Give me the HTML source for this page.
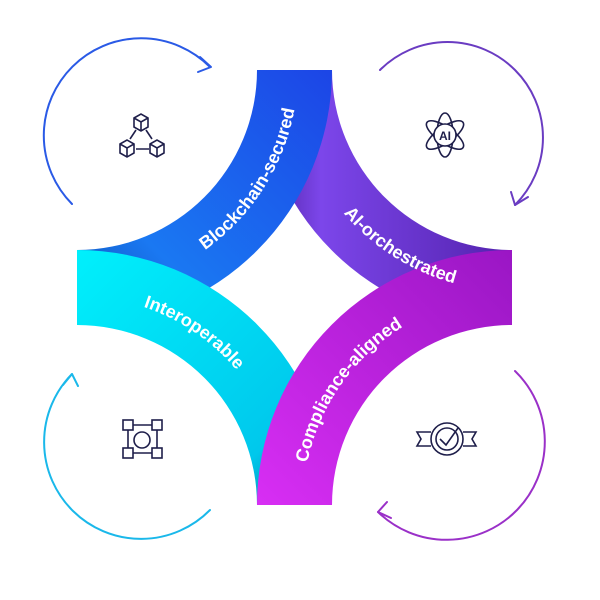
<!DOCTYPE html>
<html><head><style>html,body{margin:0;padding:0;background:#fff;}svg{display:block}</style></head>
<body>
<svg width="600" height="600" viewBox="0 0 600 600" xmlns="http://www.w3.org/2000/svg" font-family="Liberation Sans, sans-serif">
<defs>
<linearGradient id="gB" x1="0" y1="1" x2="1" y2="0"><stop offset="0" stop-color="#0a4fb0"/><stop offset="0.3" stop-color="#1a78f2"/><stop offset="1" stop-color="#1c45e6"/></linearGradient>
<linearGradient id="gP" x1="0" y1="0" x2="1" y2="0"><stop offset="0" stop-color="#4a1e9a"/><stop offset="0.25" stop-color="#7c46ea"/><stop offset="1" stop-color="#5322ae"/></linearGradient>
<linearGradient id="gC" x1="0" y1="0" x2="1" y2="1"><stop offset="0" stop-color="#00f0fc"/><stop offset="0.75" stop-color="#00c8ec"/><stop offset="1" stop-color="#046a90"/></linearGradient>
<linearGradient id="gM" x1="0" y1="1" x2="1" y2="0"><stop offset="0" stop-color="#d82ef4"/><stop offset="1" stop-color="#9a16c4"/></linearGradient>
<path id="tB" d="M77,291 A221 221 0 0 0 298,70"/>
<path id="tA" d="M291,70 A221 221 0 0 0 512,291"/>
<path id="tI" d="M77,296 A209 209 0 0 1 286,505"/>
<path id="tC" d="M303,505 A209 209 0 0 1 512,296"/>
</defs>
<!-- arrows -->
<g fill="none" stroke-width="2" stroke-linecap="round" stroke-linejoin="round">
<path d="M72,204 A90 90 0 0 1 210,67" stroke="#2a5ae6"/>
<path d="M200,57 L211,67 L198,72" stroke="#2a5ae6"/>
<path d="M380,70 A90 90 0 0 1 515,205" stroke="#6a3cc2"/>
<path d="M511,192 L515,205 L528,197" stroke="#6a3cc2"/>
<path d="M210,510 A90 90 0 0 1 72,374" stroke="#1ab8ea"/>
<path d="M63,385 L72,374 L78,386" stroke="#1ab8ea"/>
<path d="M515,371 A90 90 0 0 1 378,512" stroke="#9a30c8"/>
<path d="M387,502 L378,512 L391,518" stroke="#9a30c8"/>
</g>
<!-- bands -->
<path d="M332,70 L257,70 A255 255 0 0 0 512,325 L512,250 A180 180 0 0 1 332,70 Z" fill="url(#gP)"/>
<path d="M257,70 L332,70 A255 255 0 0 1 77,325 L77,250 A180 180 0 0 0 257,70 Z" fill="url(#gB)"/>
<path d="M77,250 L77,325 A180 180 0 0 1 257,505 L332,505 A255 255 0 0 0 77,250 Z" fill="url(#gC)"/>
<path d="M512,250 L512,325 A180 180 0 0 0 332,505 L257,505 A255 255 0 0 1 512,250 Z" fill="url(#gM)"/>
<g fill="#fff" font-size="18" font-weight="bold" text-anchor="middle">
<text><textPath href="#tB" startOffset="64%">Blockchain-secured</textPath></text>
<text><textPath href="#tA" startOffset="64%">AI-orchestrated</textPath></text>
<text><textPath href="#tI" startOffset="38%">Interoperable</textPath></text>
<text><textPath href="#tC" startOffset="39%">Compliance-aligned</textPath></text>
</g>
<!-- icons -->
<g fill="none" stroke="#1e1e4a" stroke-width="1.6">
<path d="M134,118 L141,114 L148,118 L148,127 L141,131 L134,127 Z M134,118 L141,122 L148,118 M141,122 L141,131"/>
<path d="M120,144 L127,140 L134,144 L134,153 L127,157 L120,153 Z M120,144 L127,148 L134,144 M127,148 L127,157"/>
<path d="M150,144 L157,140 L164,144 L164,153 L157,157 L150,153 Z M150,144 L157,148 L164,144 M157,148 L157,157"/>
<path d="M136,130 L130,139 M146,130 L152,139 M136,149 L149,149"/>
<ellipse cx="445" cy="135" rx="8" ry="22"/><ellipse cx="445" cy="135" rx="22" ry="8" transform="rotate(35 445 135)"/><ellipse cx="445" cy="135" rx="22" ry="8" transform="rotate(-35 445 135)"/>
<circle cx="445" cy="135" r="11" fill="#fff"/>
<rect x="123" y="420" width="10" height="10"/><rect x="152" y="420" width="10" height="10"/><rect x="123" y="448" width="10" height="10"/><rect x="152" y="448" width="10" height="10"/>
<circle cx="142" cy="440" r="8"/><path d="M133,425 L152,425 M133,453 L152,453 M128,430 L128,448 M157,430 L157,448"/>
<circle cx="447" cy="439" r="16"/><circle cx="447" cy="439" r="11"/><path d="M440,439 L446,445 L458,428 M431,432 L417,432 L421,439 L417,446 L431,446 M463,432 L476,432 L472,439 L476,446 L463,446"/>
</g>
<text x="445" y="140" font-size="12" font-weight="bold" fill="#1e1e4a" text-anchor="middle">AI</text>
</svg>
</body></html>
